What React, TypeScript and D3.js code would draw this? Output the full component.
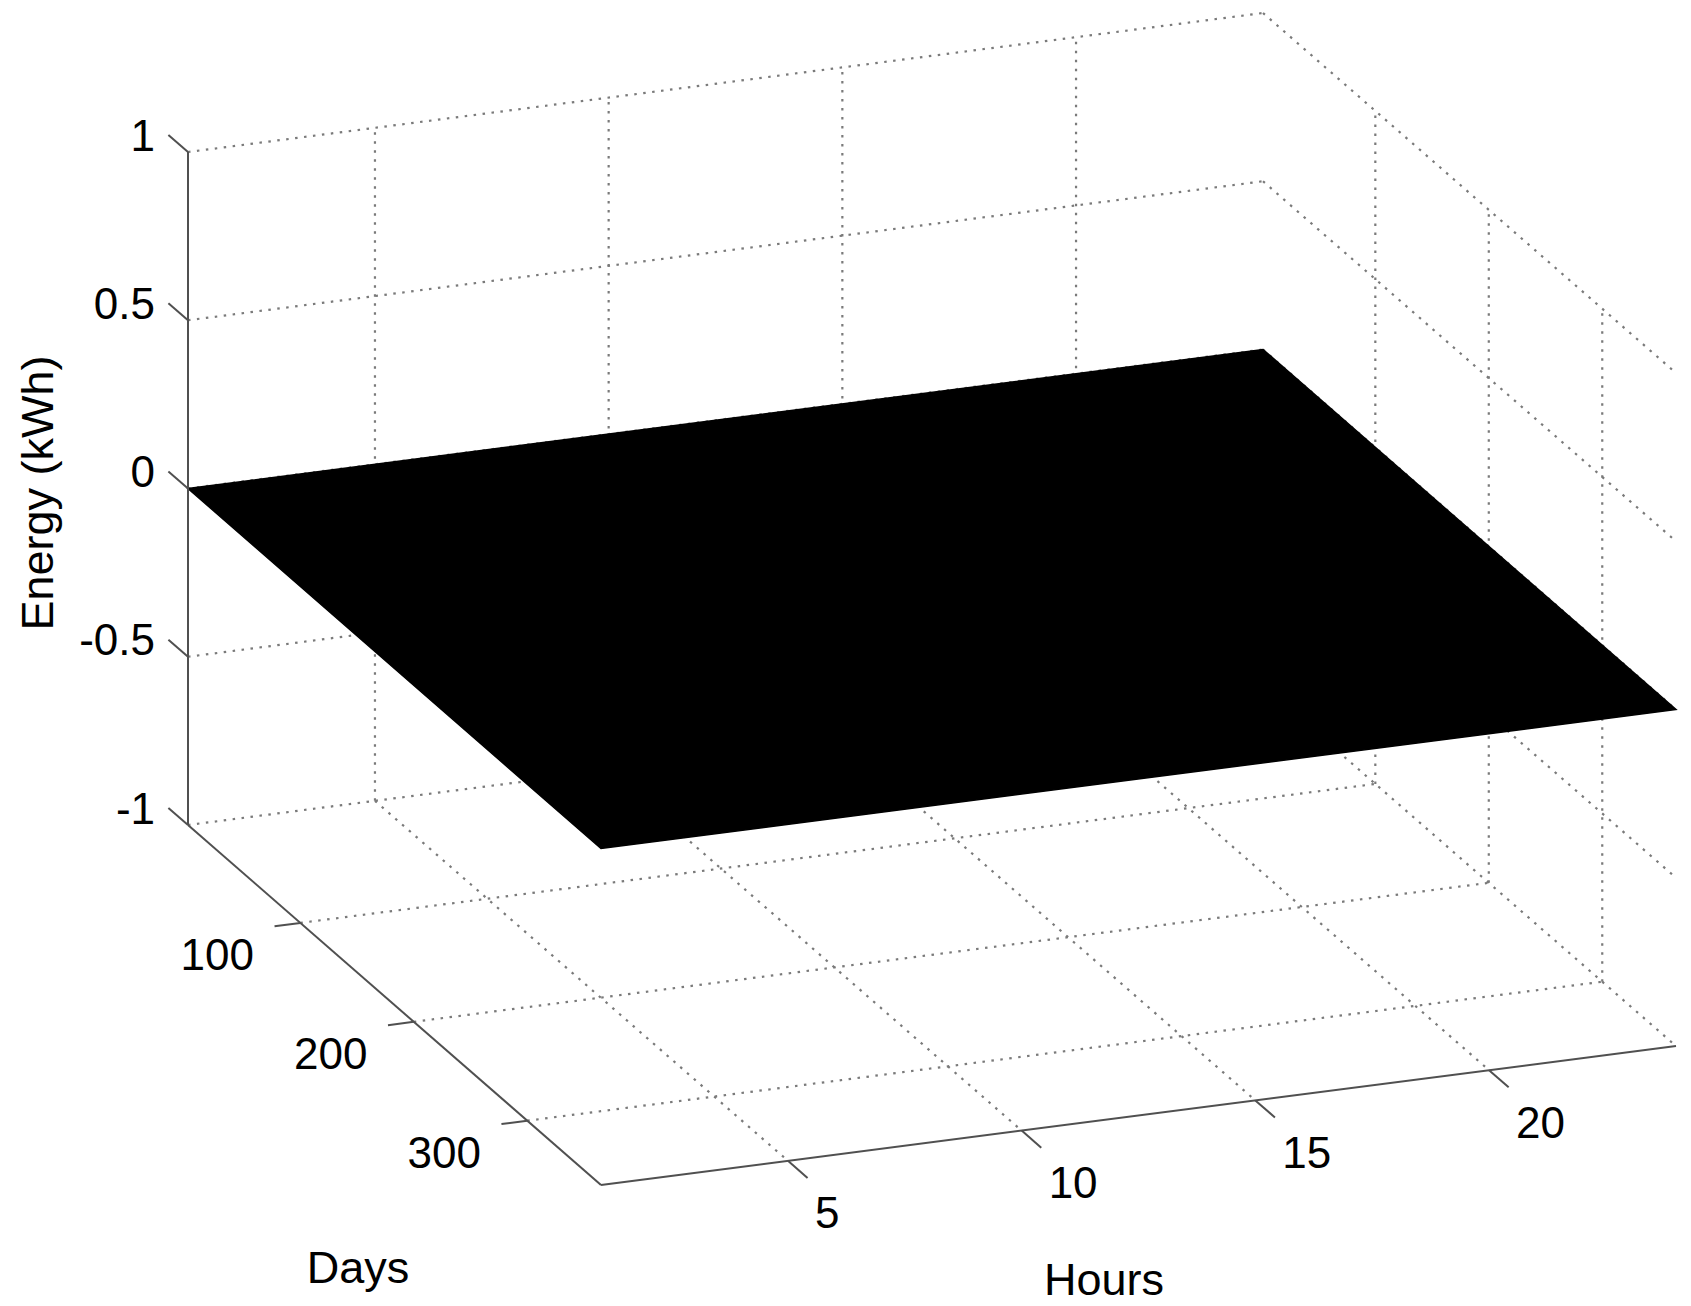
import React from "react";
import * as d3 from "d3";

// ---- data ----
const hourDomain = [1, 24];
const dayDomain = [1, 365];
const energyDomain = [-1, 1];
const hourTicks = [5, 10, 15, 20];
const dayTicks = [100, 200, 300];
const energyTicks = [-1, -0.5, 0, 0.5, 1];
const energyTickLabels = ["-1", "-0.5", "0", "0.5", "1"];
// surface corner values: rows = days (first, last), cols = hours (first, last)
const energyCorners = [
  [0, 0],
  [0, 0],
];

const W = 1691;
const H = 1306;
const FONT = "'Liberation Sans', Arial, Helvetica, sans-serif";

// ---- projection (orthographic) ----
const origin = { x: 188, y: 825 };
const hX = d3.scaleLinear().domain(hourDomain).range([0, 1075]);
const hY = d3.scaleLinear().domain(hourDomain).range([0, -139]);
const dX = d3.scaleLinear().domain(dayDomain).range([0, 413]);
const dY = d3.scaleLinear().domain(dayDomain).range([0, 360]);
const zY = d3.scaleLinear().domain(energyDomain).range([0, -673]);

function P(h: number, d: number, z: number): [number, number] {
  return [origin.x + hX(h) + dX(d), origin.y + hY(h) + dY(d) + zY(z)];
}

const line = d3.line<[number, number]>();

export default function App() {
  const [h0, h1] = hourDomain;
  const [d0, d1] = dayDomain;
  const [z0, z1] = energyDomain;

  const grid: [number, number][][] = [];
  // back wall d = d0
  energyTicks.forEach((z) => grid.push([P(h0, d0, z), P(h1, d0, z)]));
  hourTicks.forEach((h) => grid.push([P(h, d0, z0), P(h, d0, z1)]));
  // side wall h = h1
  energyTicks.forEach((z) => grid.push([P(h1, d0, z), P(h1, d1, z)]));
  dayTicks.forEach((d) => grid.push([P(h1, d, z0), P(h1, d, z1)]));
  // floor z = z0
  hourTicks.forEach((h) => grid.push([P(h, d0, z0), P(h, d1, z0)]));
  dayTicks.forEach((d) => grid.push([P(h0, d, z0), P(h1, d, z0)]));

  const surf = [
    P(h0, d0, energyCorners[0][0]),
    P(h1, d0, energyCorners[0][1]),
    P(h1, d1, energyCorners[1][1]),
    P(h0, d1, energyCorners[1][0]),
  ];
  const surfPath = line(surf) + "Z";

  // unit directions
  const dv = [dX(d1) - dX(d0), dY(d1) - dY(d0)];
  const dl = Math.hypot(dv[0], dv[1]);
  const du = [dv[0] / dl, dv[1] / dl];
  const hv = [hX(h1) - hX(h0), hY(h1) - hY(h0)];
  const hl = Math.hypot(hv[0], hv[1]);
  const hu = [hv[0] / hl, hv[1] / hl];
  const TL = 26;

  const axisColor = "#505050";
  const gridColor = "#7a7a7a";

  return (
    <svg
      width={W}
      height={H}
      style={{ position: "absolute", left: 0, top: 0, background: "#fff" }}
    >
      <rect width={W} height={H} fill="#fff" />
      {grid.map((g, i) => (
        <path
          key={"g" + i}
          d={line(g) || ""}
          stroke={gridColor}
          strokeWidth={2.2}
          strokeDasharray="2.5 6.5"
          fill="none"
        />
      ))}
      <path d={surfPath} fill="#000" stroke="#000" strokeWidth={1.5} />

      {/* axes */}
      <path d={line([P(h0, d0, z0), P(h0, d0, z1)]) || ""} stroke={axisColor} strokeWidth={2} fill="none" />
      <path d={line([P(h0, d0, z0), P(h0, d1, z0)]) || ""} stroke={axisColor} strokeWidth={2} fill="none" />
      <path d={line([P(h0, d1, z0), P(h1, d1, z0)]) || ""} stroke={axisColor} strokeWidth={2} fill="none" />

      {/* z ticks */}
      {energyTicks.map((z, i) => {
        const [x, y] = P(h0, d0, z);
        return (
          <g key={"zt" + i}>
            <line x1={x} y1={y} x2={x - du[0] * TL} y2={y - du[1] * TL} stroke={axisColor} strokeWidth={2} />
            <text
              x={155}
              y={y - 17}
              textAnchor="end"
              dominantBaseline="central"
              fontFamily={FONT}
              fontSize={44}
              fill="#000"
            >
              {energyTickLabels[i]}
            </text>
          </g>
        );
      })}

      {/* day ticks */}
      {dayTicks.map((d, i) => {
        const [x, y] = P(h0, d, z0);
        return (
          <g key={"dt" + i}>
            <line x1={x} y1={y} x2={x - hu[0] * TL} y2={y - hu[1] * TL} stroke={axisColor} strokeWidth={2} />
            <text
              x={x - 83}
              y={y + 32}
              textAnchor="middle"
              dominantBaseline="central"
              fontFamily={FONT}
              fontSize={44}
              fill="#000"
            >
              {d}
            </text>
          </g>
        );
      })}

      {/* hour ticks */}
      {hourTicks.map((h, i) => {
        const [x, y] = P(h, d1, z0);
        return (
          <g key={"ht" + i}>
            <line x1={x} y1={y} x2={x + du[0] * TL} y2={y + du[1] * TL} stroke={axisColor} strokeWidth={2} />
            <text
              x={x + 27}
              y={y + 52}
              textAnchor="start"
              dominantBaseline="central"
              fontFamily={FONT}
              fontSize={44}
              fill="#000"
            >
              {h}
            </text>
          </g>
        );
      })}

      {/* axis labels */}
      <text
        transform="translate(53,493) rotate(-90)"
        textAnchor="middle"
        fontFamily={FONT}
        fontSize={45}
        fill="#000"
      >
        Energy (kWh)
      </text>
      <text x={358} y={1267} textAnchor="middle" dominantBaseline="central" fontFamily={FONT} fontSize={45} fill="#000">
        Days
      </text>
      <text x={1104} y={1279} textAnchor="middle" dominantBaseline="central" fontFamily={FONT} fontSize={45} fill="#000">
        Hours
      </text>
    </svg>
  );
}
